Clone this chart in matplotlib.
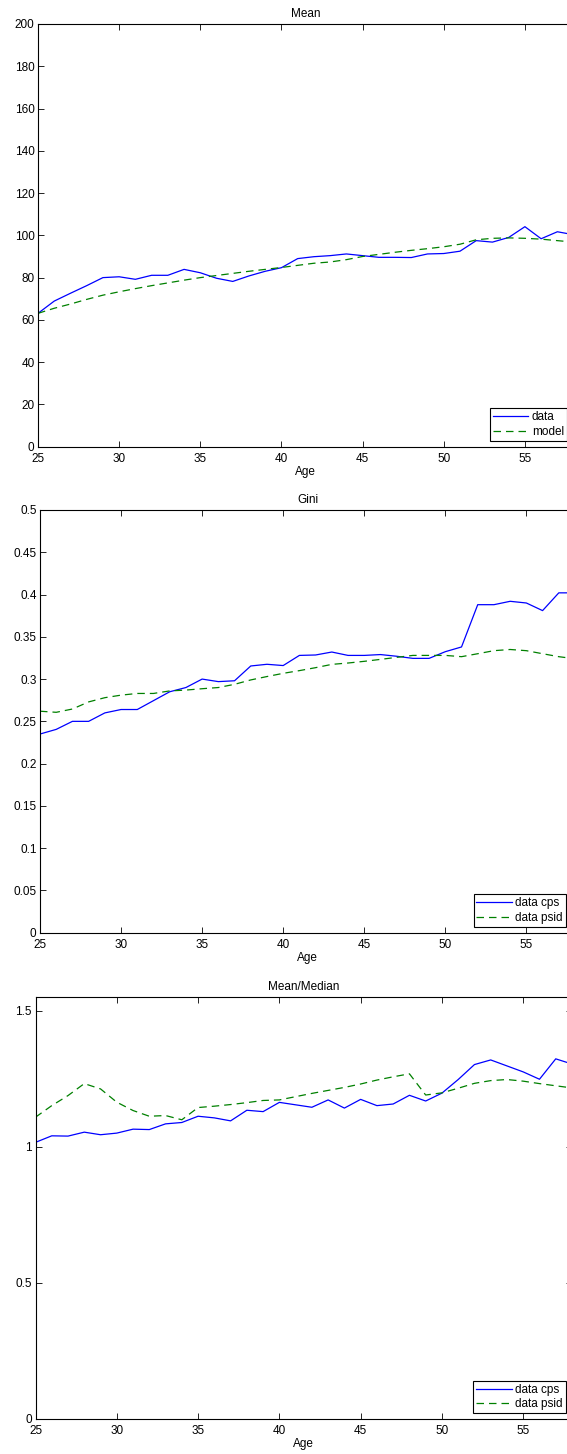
import numpy as np
import matplotlib
matplotlib.use("Agg")
import matplotlib.pyplot as plt
from matplotlib.ticker import FormatStrFormatter

plt.rcParams["font.family"] = ["Liberation Sans", "DejaVu Sans"]
plt.rcParams["font.size"] = 8.5

age = list(range(25, 59))

# Mean
mean_data = [63.1, 68.9, 72.6, 76.2, 80.0, 80.4, 79.2, 81.1, 81.1, 83.9,
             82.3, 79.7, 78.2, 80.8, 83.0, 84.7, 89.0, 89.9, 90.4, 91.2,
             90.4, 89.6, 89.6, 89.5, 91.2, 91.4, 92.5, 97.5, 96.8, 99.0,
             104.1, 98.4, 101.7, 100.3]
mean_model = [63.1, 65.5, 67.5, 69.7, 71.7, 73.3, 74.8, 76.2, 77.5, 78.8,
              80.0, 81.0, 82.0, 83.0, 83.9, 84.8, 85.8, 86.8, 87.4, 88.5,
              90.0, 91.0, 92.0, 92.9, 93.7, 94.6, 95.8, 97.9, 98.6, 98.8,
              98.6, 98.2, 97.5, 96.8]

# Gini
gini_cps = [0.235, 0.2405, 0.250, 0.250, 0.260, 0.264, 0.264, 0.2745, 0.285, 0.290,
            0.300, 0.297, 0.298, 0.3155, 0.3175, 0.316, 0.328, 0.3285, 0.332, 0.328,
            0.328, 0.329, 0.327, 0.3245, 0.3245, 0.3324, 0.338, 0.388, 0.388, 0.392,
            0.390, 0.381, 0.402, 0.402]
gini_psid = [0.262, 0.2607, 0.2646, 0.273, 0.278, 0.281, 0.283, 0.283, 0.286, 0.287,
             0.2886, 0.290, 0.2938, 0.299, 0.303, 0.3068, 0.310, 0.3135, 0.3174, 0.319,
             0.321, 0.3233, 0.3257, 0.328, 0.328, 0.328, 0.3265, 0.330, 0.3336, 0.335,
             0.3336, 0.330, 0.3265, 0.324]

# Mean/Median
mm_cps = [1.016, 1.040, 1.039, 1.0535, 1.044, 1.050, 1.0645, 1.063, 1.084, 1.089,
          1.112, 1.106, 1.095, 1.134, 1.129, 1.163, 1.154, 1.145, 1.172, 1.142,
          1.174, 1.151, 1.157, 1.189, 1.168, 1.197, 1.247, 1.302, 1.319, 1.297,
          1.275, 1.248, 1.323, 1.304]
mm_psid = [1.1085, 1.151, 1.188, 1.232, 1.2125, 1.1636, 1.133, 1.112, 1.1146, 1.099,
           1.144, 1.149, 1.155, 1.162, 1.170, 1.172, 1.184, 1.196, 1.207, 1.218,
           1.2305, 1.245, 1.257, 1.268, 1.190, 1.198, 1.215, 1.233, 1.243, 1.247,
           1.241, 1.232, 1.224, 1.216]

W, H = 567, 1454
fig = plt.figure(figsize=(W / 100, H / 100), dpi=100)


def make_ax(x0, x1, y0, y1):
    # pixel box -> figure fraction
    return fig.add_axes([x0 / W, (H - y1) / H, (x1 - x0) / W, (y1 - y0) / H])


def style(ax, title):
    ax.set_xlim(25, 58)
    ax.set_xticks([25, 30, 35, 40, 45, 50, 55])
    ax.tick_params(direction="in", top=True, right=True, length=4, width=0.6,
                   labelsize=8.5)
    ax.tick_params(axis="x", pad=4.5)
    ax.tick_params(axis="y", pad=2.5)
    for s in ax.spines.values():
        s.set_linewidth(0.8)
    ax.set_title(title, fontsize=8.5, pad=5)
    ax.set_xlabel("Age", fontsize=8.5, labelpad=1)


def legend(ax, labels, anchor):
    leg = ax.legend(labels, loc="lower right", bbox_to_anchor=anchor,
                    borderaxespad=0, fancybox=False, framealpha=1,
                    edgecolor="black", fontsize=8.5, handlelength=3.0,
                    handletextpad=0.3, labelspacing=0.2, borderpad=0.25)
    leg.get_frame().set_linewidth(0.8)


ax1 = make_ax(38, 573.6, 24, 446.7)
ax1.plot(age, mean_data, color="#0000ff", lw=0.9)
ax1.plot(age, mean_model, color="#008000", lw=0.9, ls=(0, (6, 4)))
ax1.set_ylim(0, 200)
ax1.set_yticks(np.arange(0, 201, 20))
style(ax1, "Mean")
legend(ax1, ["data", "model"], (0.9877, 0.0142))

ax2 = make_ax(40, 575, 510, 932.7)
ax2.plot(age, gini_cps, color="#0000ff", lw=0.9)
ax2.plot(age, gini_psid, color="#008000", lw=0.9, ls=(0, (6, 4)))
ax2.set_ylim(0, 0.5)
ax2.set_yticks(np.arange(0, 0.501, 0.05))
ax2.yaxis.set_major_formatter(FormatStrFormatter("%g"))
style(ax2, "Gini")
legend(ax2, ["data cps", "data psid"], (0.983, 0.0142))

ax3 = make_ax(35.5, 572, 996.7, 1418.7)
ax3.plot(age, mm_cps, color="#0000ff", lw=0.9)
ax3.plot(age, mm_psid, color="#008000", lw=0.9, ls=(0, (6, 4)))
ax3.set_ylim(0, 1.5515)
ax3.set_yticks([0, 0.5, 1, 1.5])
ax3.yaxis.set_major_formatter(FormatStrFormatter("%g"))
style(ax3, "Mean/Median")
legend(ax3, ["data cps", "data psid"], (0.988, 0.0128))

fig.savefig("out.png", dpi=100)
